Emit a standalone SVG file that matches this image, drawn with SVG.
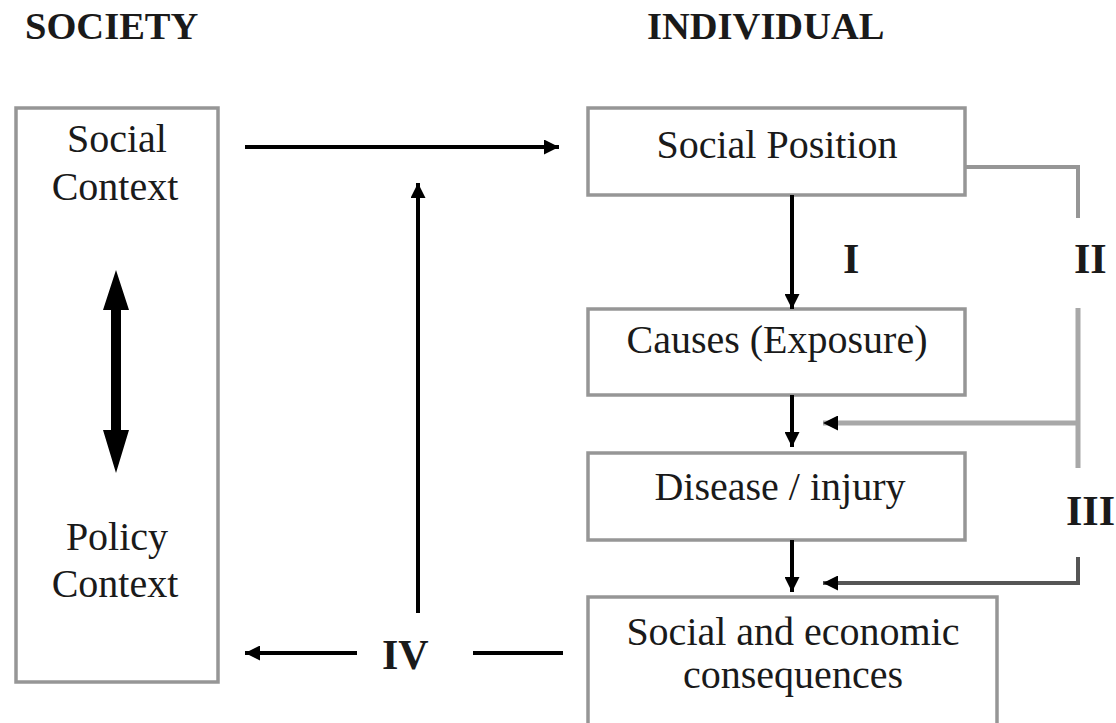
<svg xmlns="http://www.w3.org/2000/svg" width="1116" height="723" viewBox="0 0 1116 723">
<defs>
<style>
.box{fill:#fff;stroke:#969696;stroke-width:3.5}
.t{font-family:"Liberation Serif","Times New Roman",serif;font-size:40px;fill:#1a1a1a;text-anchor:middle}
.h{font-family:"Liberation Serif","Times New Roman",serif;font-size:38.5px;font-weight:bold;fill:#1a1a1a}
.n{font-family:"Liberation Serif","Times New Roman",serif;font-size:42px;font-weight:bold;fill:#1a1a1a}
.blk{stroke:#000;stroke-width:4;fill:none}
.gry{stroke:#969696;stroke-width:4;fill:none}
.lgry{stroke:#a8a8a8;stroke-width:5;fill:none}
.dgry{stroke:#555;stroke-width:4;fill:none}
</style>
<marker id="ah" viewBox="0 0 10 10" refX="10" refY="5" markerWidth="15" markerHeight="15" markerUnits="userSpaceOnUse" orient="auto">
<path d="M0,0 L10,5 L0,10 z" fill="#000"/>
</marker>
</defs>
<rect width="1116" height="723" fill="#fff"/>

<g id="society-title"><text class="h" x="25" y="39">SOCIETY</text></g>
<g id="individual-title"><text class="h" x="647" y="39">INDIVIDUAL</text></g>

<g id="social-policy-context">
<rect class="box" x="16" y="108" width="202" height="574"/>
<text class="t" x="117" y="152">Social</text>
<text class="t" x="115" y="200">Context</text>
<path d="M116,270 L129,310 L121,310 L121,430 L129,430 L116,473 L103,430 L111,430 L111,310 L103,310 Z" fill="#000"/>
<text class="t" x="117" y="550">Policy</text>
<text class="t" x="115" y="597">Context</text>
</g>

<g id="social-position">
<rect class="box" x="588" y="108" width="377" height="87"/>
<text class="t" x="777" y="158">Social Position</text>
</g>

<g id="causes">
<rect class="box" x="588" y="309" width="377" height="86"/>
<text class="t" x="777" y="353">Causes (Exposure)</text>
</g>

<g id="disease">
<rect class="box" x="588" y="453" width="377" height="87"/>
<text class="t" x="780" y="500">Disease / injury</text>
</g>

<g id="consequences">
<rect class="box" x="588" y="597" width="409" height="160"/>
<text class="t" x="793" y="645">Social and economic</text>
<text class="t" x="793" y="688">consequences</text>
</g>

<g id="connectors">
<line class="blk" x1="245" y1="147" x2="559" y2="147" marker-end="url(#ah)"/>
<line class="blk" x1="418" y1="613" x2="418" y2="183" marker-end="url(#ah)"/>
<line class="blk" x1="357" y1="653" x2="245" y2="653" marker-end="url(#ah)"/>
<line class="blk" x1="473" y1="653" x2="563" y2="653"/>
<line class="blk" x1="792" y1="195" x2="792" y2="309" marker-end="url(#ah)"/>
<line class="blk" x1="792" y1="395" x2="792" y2="447" marker-end="url(#ah)"/>
<line class="blk" x1="792" y1="540" x2="792" y2="592" marker-end="url(#ah)"/>
<polyline class="gry" points="965,167 1078,167 1078,218"/>
<line class="lgry" x1="1078" y1="308" x2="1078" y2="468"/>
<line class="lgry" x1="1078" y1="423" x2="823" y2="423" marker-end="url(#ah)"/>
<polyline class="dgry" points="1078,557 1078,583 823,583" marker-end="url(#ah)"/>
</g>

<g id="path-labels">
<text class="n" x="843" y="273">I</text>
<text class="n" x="1074" y="273">II</text>
<text class="n" x="1066" y="525">III</text>
<text class="n" x="382" y="669">IV</text>
</g>
</svg>
